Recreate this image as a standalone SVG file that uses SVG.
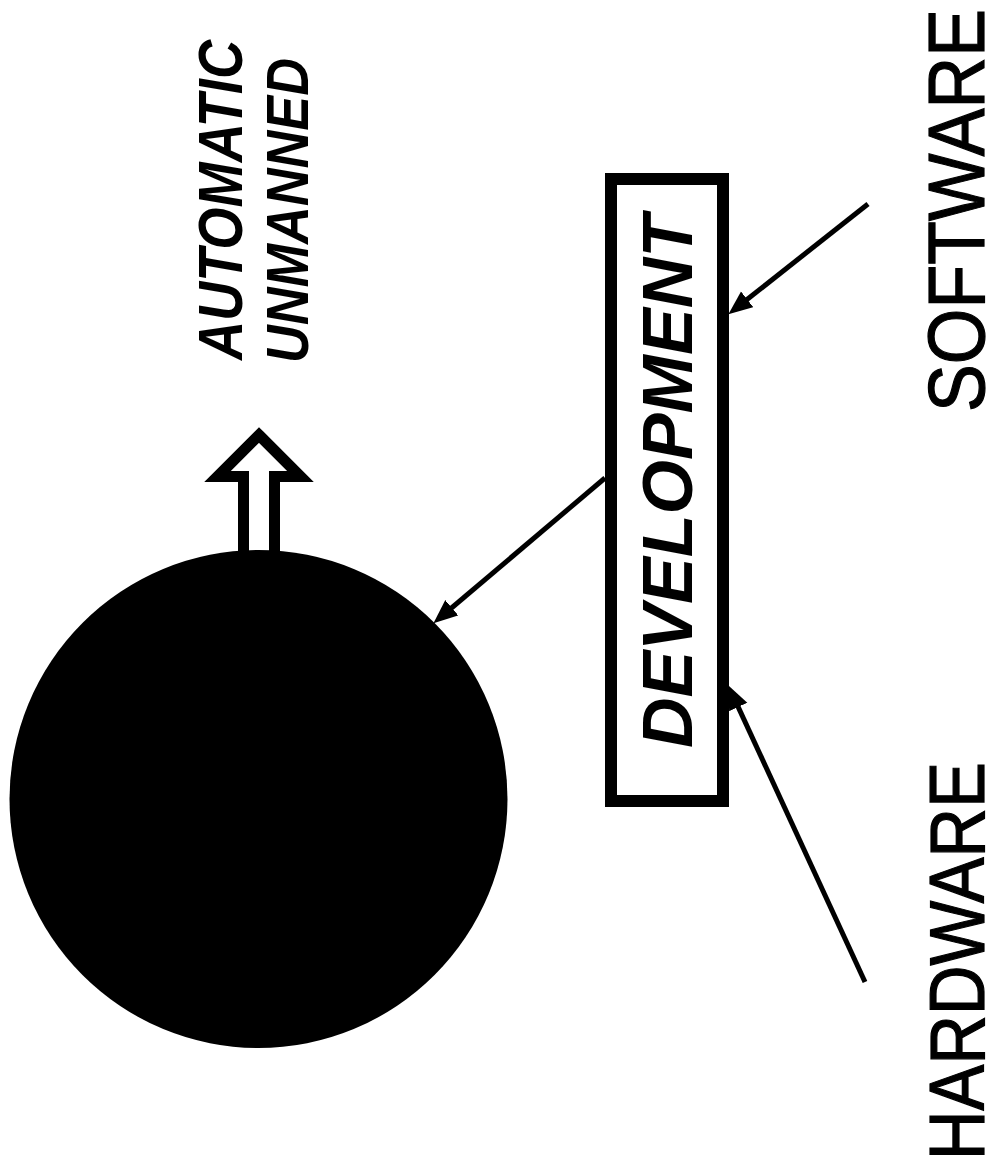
<svg xmlns="http://www.w3.org/2000/svg" width="991" height="1176" viewBox="0 0 991 1176">
  <style>
    .hand { font-family: "Liberation Sans", "DejaVu Sans", sans-serif; font-style: italic; font-weight: bold; fill: #000; }
    .label { font-family: "Liberation Sans", Arial, sans-serif; font-weight: normal; fill: #000; stroke: #000; stroke-width: 1.2; }
    .conn { stroke: #000; stroke-width: 5; fill: none; }
  </style>
  <defs>
    <marker id="head" markerUnits="userSpaceOnUse" markerWidth="26" markerHeight="22" refX="12" refY="10" orient="auto" viewBox="0 0 26 22">
      <path d="M0,0 L24,10 L0,20 Z" fill="#000"/>
    </marker>
  </defs>
  <rect x="0" y="0" width="991" height="1176" fill="#fff"/>

  <g id="output-arrow">
    <polygon points="259,435 300.5,476.5 274.5,476.5 274.5,562 243.5,562 243.5,476.5 217.5,476.5" fill="#fff" stroke="#000" stroke-width="11" stroke-linejoin="miter"/>
  </g>

  <g id="sphere">
    <circle cx="258.5" cy="799" r="249" fill="#000"/>
  </g>

  <g id="automatic-unmanned">
    <text class="hand" font-size="63" transform="translate(242,360) rotate(-90)" textLength="320" lengthAdjust="spacingAndGlyphs">AUTOMATIC</text>
    <text class="hand" font-size="60" transform="translate(308,363) rotate(-90)" textLength="305" lengthAdjust="spacingAndGlyphs">UNMANNED</text>
  </g>

  <g id="development">
    <rect x="611" y="179" width="112" height="622" fill="#fff" stroke="#000" stroke-width="12"/>
    <text class="hand" font-size="70" transform="translate(692,748) rotate(-90)" textLength="533" lengthAdjust="spacingAndGlyphs">DEVELOPMENT</text>
  </g>

  <g id="software">
    <text class="label" font-size="80" transform="translate(984,412) rotate(-90)" textLength="403" lengthAdjust="spacingAndGlyphs">SOFTWARE</text>
  </g>

  <g id="hardware">
    <text class="label" font-size="77" transform="translate(984,1160) rotate(-90)" textLength="398" lengthAdjust="spacingAndGlyphs">HARDWARE</text>
  </g>

  <g id="connectors">
    <line class="conn" x1="605" y1="478" x2="442.6" y2="615.5" marker-end="url(#head)"/>
    <line class="conn" x1="868" y1="204" x2="737.8" y2="306.8" marker-end="url(#head)"/>
    <line class="conn" x1="865" y1="982" x2="733.2" y2="696.1" marker-end="url(#head)"/>
  </g>
</svg>
